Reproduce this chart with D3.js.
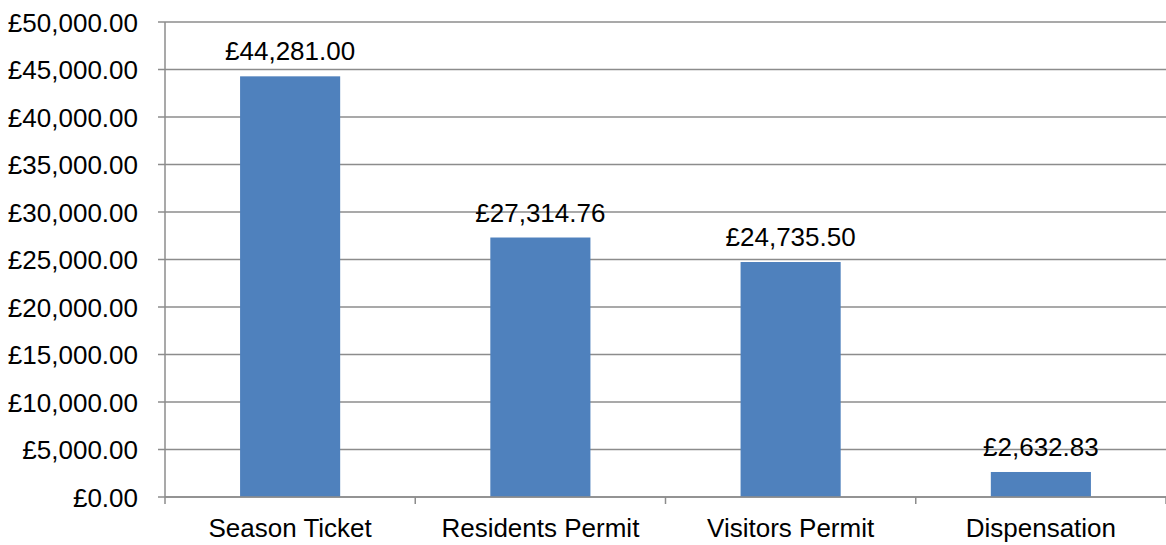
<!DOCTYPE html>
<html>
<head>
<meta charset="utf-8">
<script src="https://cdn.jsdelivr.net/npm/d3@7"></script>
<style>
  body { margin: 0; background: #fff; }
  text { font-family: "Liberation Sans", Arial, sans-serif; font-size: 26px; fill: #000; }
</style>
</head>
<body>
<div id="chart"></div>
<script>
const categories = ['Season Ticket', 'Residents Permit', 'Visitors Permit', 'Dispensation'];
const values = [44281.00, 27314.76, 24735.50, 2632.83];
const yTicks = [0, 5000, 10000, 15000, 20000, 25000, 30000, 35000, 40000, 45000, 50000];

const w = 1166, h = 545;
const margin = {top: 22, right: 0, bottom: 48, left: 165};
const gridColor = '#8c8c8c';
const barColor = '#4f81bd';

const svg = d3.select('#chart').append('svg')
  .attr('width', w).attr('height', h);

const x = d3.scaleBand()
  .domain(categories)
  .range([margin.left, w - margin.right])
  .paddingInner(0.6).paddingOuter(0.3);

const y = d3.scaleLinear()
  .domain([0, 50000])
  .range([h - margin.bottom, margin.top]);

const fmt = d => '£' + d3.format(',.2f')(d);

// grid lines + y ticks
svg.append('g').selectAll('line').data(yTicks).join('line')
  .attr('x1', margin.left - 7).attr('x2', w)
  .attr('y1', d => y(d)).attr('y2', d => y(d))
  .attr('stroke', gridColor).attr('stroke-width', 1.5);

svg.append('g').selectAll('text').data(yTicks).join('text')
  .attr('x', margin.left - 27).attr('y', d => y(d) + 9.5)
  .attr('text-anchor', 'end')
  .text(fmt);

// y axis line
svg.append('line')
  .attr('x1', margin.left).attr('x2', margin.left)
  .attr('y1', margin.top).attr('y2', y(0))
  .attr('stroke', gridColor).attr('stroke-width', 1.5);

// bars
svg.append('g').selectAll('rect').data(values).join('rect')
  .attr('x', (d, i) => x(categories[i]))
  .attr('width', x.bandwidth())
  .attr('y', d => y(d))
  .attr('height', d => y(0) - y(d))
  .attr('fill', barColor);

// value labels
svg.append('g').selectAll('text').data(values).join('text')
  .attr('x', (d, i) => x(categories[i]) + x.bandwidth() / 2)
  .attr('y', d => y(d) - 16)
  .attr('text-anchor', 'middle')
  .text(fmt);

// x axis
const step = x.step();
const bounds = d3.range(categories.length + 1).map(i => margin.left + i * step);
svg.append('line')
  .attr('x1', margin.left).attr('x2', w)
  .attr('y1', y(0)).attr('y2', y(0))
  .attr('stroke', gridColor).attr('stroke-width', 1.5);
svg.append('g').selectAll('line').data(bounds).join('line')
  .attr('x1', d => d).attr('x2', d => d)
  .attr('y1', y(0)).attr('y2', y(0) + 7)
  .attr('stroke', gridColor).attr('stroke-width', 1.5);

svg.append('g').selectAll('text').data(categories).join('text')
  .attr('x', d => x(d) + x.bandwidth() / 2)
  .attr('y', y(0) + 40)
  .attr('text-anchor', 'middle')
  .text(d => d);
</script>
</body>
</html>
